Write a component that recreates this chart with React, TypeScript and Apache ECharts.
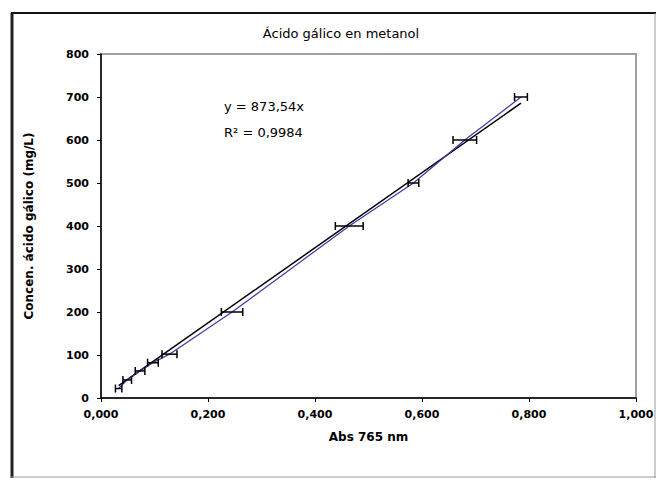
import React, { useEffect, useRef } from "react";
import * as echarts from "echarts";

const absValues = [0.033, 0.049, 0.073, 0.097, 0.128, 0.245, 0.464, 0.584, 0.68, 0.785];
const concValues = [22, 42, 63, 82, 102, 200, 400, 500, 600, 700];
const absErrors = [0.006, 0.008, 0.009, 0.01, 0.014, 0.02, 0.026, 0.01, 0.022, 0.012];
const slope = 873.54;
const r2Text = "R² = 0,9984";
const eqText = "y = 873,54x";
const titleText = "Ácido gálico en metanol";
const xName = "Abs 765 nm";
const yName = "Concen. ácido gálico (mg/L)";

const FONT = "'DejaVu Sans', 'Liberation Sans', Arial, sans-serif";

export default function App() {
  const ref = useRef<HTMLDivElement>(null);
  useEffect(() => {
    document.body.style.margin = "0";
    if (!ref.current) return;
    const chart = echarts.init(ref.current, undefined, { renderer: "svg" });
    const pts = absValues.map((x, i) => [x, concValues[i]]);
    const errData = absValues.map((x, i) => [x, concValues[i], absErrors[i]]);
    const xmin = Math.min(...absValues);
    const xmax = Math.max(...absValues);
    const trend = [
      [xmin, slope * xmin],
      [xmax, slope * xmax],
    ];
    chart.setOption({
      animation: false,
      backgroundColor: "#fff",
      textStyle: { fontFamily: FONT },
      title: {
        text: titleText,
        left: 336,
        top: 22,
        textAlign: "center",
        textStyle: { fontSize: 13, fontWeight: "normal", color: "#000", fontFamily: FONT },
      },
      grid: {
        left: 101,
        top: 54,
        right: 21,
        bottom: 82,
        show: true,
        borderColor: "#a0a0a0",
        borderWidth: 2,
        backgroundColor: "#fff",
      },
      xAxis: {
        type: "value",
        min: 0,
        max: 1,
        interval: 0.2,
        name: xName,
        nameLocation: "middle",
        nameGap: 33,
        nameTextStyle: { fontSize: 12, fontWeight: "bold", color: "#000", fontFamily: FONT },
        axisLine: { lineStyle: { color: "#000", width: 1.5 } },
        axisTick: { show: true, inside: false, length: 4, lineStyle: { color: "#000" } },
        axisLabel: {
          fontSize: 11,
          fontWeight: "bold",
          color: "#000",
          margin: 11,
          fontFamily: FONT,
          formatter: (v: number) => v.toFixed(3).replace(".", ","),
        },
        splitLine: { show: false },
      },
      yAxis: {
        type: "value",
        min: 0,
        max: 800,
        interval: 100,
        name: yName,
        nameLocation: "middle",
        nameGap: 66,
        nameTextStyle: { fontSize: 12, fontWeight: "bold", color: "#000", fontFamily: FONT },
        axisLine: { show: true, lineStyle: { color: "#000", width: 1.5 } },
        axisTick: { show: true, inside: false, length: 4, lineStyle: { color: "#000" } },
        axisLabel: { fontSize: 11, fontWeight: "bold", color: "#000", margin: 12, fontFamily: FONT },
        splitLine: { show: false },
      },
      series: [
        {
          type: "line",
          data: pts,
          showSymbol: false,
          symbol: "none",
          lineStyle: { color: "#3a3aa8", width: 1.2 },
          z: 3,
        },
        {
          type: "line",
          data: trend,
          showSymbol: false,
          symbol: "none",
          lineStyle: { color: "#000", width: 1.5 },
          z: 2,
        },
        {
          type: "custom",
          data: errData,
          z: 4,
          renderItem: (params: any, api: any) => {
            const x = api.value(0);
            const y = api.value(1);
            const e = api.value(2);
            const p1 = api.coord([x - e, y]);
            const p2 = api.coord([x + e, y]);
            const st = { stroke: "#000", lineWidth: 1.5 };
            return {
              type: "group",
              children: [
                { type: "line", shape: { x1: p1[0], y1: p1[1], x2: p2[0], y2: p2[1] }, style: st },
                { type: "line", shape: { x1: p1[0], y1: p1[1] - 4, x2: p1[0], y2: p1[1] + 4 }, style: st },
                { type: "line", shape: { x1: p2[0], y1: p2[1] - 4, x2: p2[0], y2: p2[1] + 4 }, style: st },
              ],
            };
          },
        },
      ],
      graphic: [
        { type: "line", shape: { x1: 12, y1: 13, x2: 12, y2: 478 }, style: { stroke: "#222", lineWidth: 3 } },
        { type: "line", shape: { x1: 11, y1: 13, x2: 656, y2: 13 }, style: { stroke: "#111", lineWidth: 2 } },
        { type: "line", shape: { x1: 655, y1: 13, x2: 655, y2: 478 }, style: { stroke: "#999", lineWidth: 1 } },
        { type: "line", shape: { x1: 11, y1: 477, x2: 656, y2: 477 }, style: { stroke: "#999", lineWidth: 1 } },
        {
          type: "text",
          left: 224,
          top: 100,
          style: { text: eqText, fontSize: 13, fill: "#000", fontFamily: FONT },
        },
        {
          type: "text",
          left: 224,
          top: 126,
          style: { text: r2Text, fontSize: 13, fill: "#000", fontFamily: FONT },
        },
      ],
    });
    return () => chart.dispose();
  }, []);
  return <div ref={ref} style={{ width: 657, height: 480 }} />;
}
